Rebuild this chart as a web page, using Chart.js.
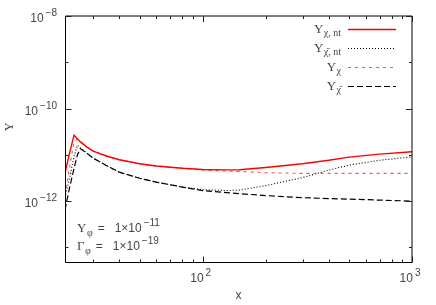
<!DOCTYPE html>
<html><head><meta charset="utf-8">
<script src="https://cdn.jsdelivr.net/npm/chart.js@4.4.0/dist/chart.umd.min.js"></script>
<style>html,body{margin:0;padding:0;background:#fff}#wrap{width:436px;height:305px}</style>
</head><body><div id="wrap"><canvas id="c" width="436" height="305"></canvas></div>
<script>
// ---- data ----
const xValues   = [22, 23, 24.3, 25.2, 26, 28, 30, 35, 40, 50, 60, 80, 100, 130, 150, 200, 300, 400, 500, 700, 1000];
const yChiNt    = [4.0e-12, 9.8e-12, 2.65e-11, 2.23e-11, 1.92e-11, 1.46e-11, 1.20e-11, 9.3e-12, 7.8e-12, 6.4e-12, 5.7e-12, 5.1e-12, 4.8e-12, 4.7e-12, 4.75e-12, 5.3e-12, 6.4e-12, 7.6e-12, 8.9e-12, 1.03e-11, 1.16e-11];
const yChiBarNt = [1.21e-12, 2.8e-12, 9.2e-12, 1.61e-11, 1.42e-11, 1.08e-11, 8.45e-12, 5.7e-12, 4.2e-12, 3.1e-12, 2.56e-12, 2.0e-12, 1.76e-12, 1.68e-12, 1.72e-12, 2.15e-12, 3.2e-12, 4.65e-12, 5.95e-12, 7.6e-12, 9.0e-12];
const yChi      = [1.34e-12, 4.6e-12, 1.87e-11, 2.2e-11, 1.92e-11, 1.46e-11, 1.20e-11, 9.3e-12, 7.8e-12, 6.4e-12, 5.7e-12, 5.1e-12, 4.65e-12, 4.45e-12, 4.35e-12, 4.1e-12, 3.95e-12, 3.95e-12, 3.95e-12, 3.95e-12, 3.95e-12];
const yChiBar   = [6.4e-13, 1.72e-12, 5.1e-12, 9.8e-12, 1.36e-11, 1.08e-11, 8.45e-12, 5.7e-12, 4.2e-12, 3.1e-12, 2.56e-12, 2.0e-12, 1.68e-12, 1.52e-12, 1.44e-12, 1.31e-12, 1.18e-12, 1.13e-12, 1.10e-12, 1.045e-12, 0.995e-12];
const xTickExponents = [2, 3];
const yTickExponents = [-8, -10, -12];
const seriesSub = ['χ, nt', 'χ̄, nt', 'χ', 'χ̄'];
const annot = [['Υ', 'φ', '−11'], ['Γ', 'φ', '−19']];

const xMin = 22, xMax = 1000, yMin = 4.8e-14, yMax = 1e-8;

function pts(ys){ return xValues.map((x,i)=>({x:x, y:ys[i]})); }

const SANS = '"Liberation Sans", Arial, sans-serif';
const SERIF = '"Liberation Serif", "DejaVu Serif", serif';
const TXT = '#444';

function runsWidth(ctx, runs){
  let w = 0;
  for (const r of runs){ ctx.font = r.font; w += ctx.measureText(r.t).width + (r.gap||0); }
  return w;
}
function drawRuns(ctx, runs, x, y, align){
  const w = runsWidth(ctx, runs);
  let cx = align === 'right' ? x - w : align === 'center' ? x - w/2 : x;
  for (const r of runs){
    ctx.font = r.font;
    ctx.fillText(r.t, cx, y + (r.dy||0));
    cx += ctx.measureText(r.t).width + (r.gap||0);
  }
}
function powRuns(exp){
  return [{t:'10', font:'12px '+SANS, gap:2},{t:String(exp).replace('-','−'), font:'10px '+SANS, dy:-6}];
}

const styles = [
  {color:'#ff0000', width:1.4, dash:[]},
  {color:'#000000', width:1.1, dash:[1,2]},
  {color:'#ff5050', width:1.1, dash:[3,4]},
  {color:'#000000', width:1.2, dash:[6,3]}
];

const deco = {
  id:'deco',
  afterDraw(chart){
    const ctx = chart.ctx, a = chart.chartArea;
    const xs = chart.scales.x, ys = chart.scales.y;
    ctx.save();
    // border
    ctx.strokeStyle = '#000'; ctx.lineWidth = 1; ctx.setLineDash([]);
    const L = Math.round(a.left)+0.5, B = Math.round(a.bottom)+0.5, T = Math.round(a.top), R = Math.round(a.right);
    ctx.beginPath();
    ctx.moveTo(L, T); ctx.lineTo(L, B); ctx.lineTo(R, B);
    ctx.moveTo(L, T); ctx.lineTo(R, T); ctx.lineTo(R, B);
    ctx.stroke();
    // x ticks
    ctx.strokeStyle = '#222';
    ctx.beginPath();
    for (let d = 1; d <= 3; d++){
      for (let m = 1; m <= 9; m++){
        const v = m*Math.pow(10,d);
        if (v < xMin || v > xMax) continue;
        const px = Math.round(xs.getPixelForValue(v)) + 0.5;
        const len = m === 1 ? 6 : 3;
        ctx.moveTo(px, B); ctx.lineTo(px, B - len);
        ctx.moveTo(px, T); ctx.lineTo(px, T + len);
      }
    }
    // y ticks
    for (let e = -13; e <= -8; e++){
      const v = Math.pow(10, e);
      if (v < yMin || v > yMax) continue;
      const py = Math.round(ys.getPixelForValue(v)) + 0.5;
      const len = (e % 2 === 0) ? 6 : 3;
      ctx.moveTo(L, py); ctx.lineTo(L + len, py);
      ctx.moveTo(R, py); ctx.lineTo(R - len, py);
    }
    ctx.stroke();

    ctx.fillStyle = TXT;
    ctx.textBaseline = 'alphabetic';
    // y tick labels
    for (const e of yTickExponents){
      const py = ys.getPixelForValue(Math.pow(10,e));
      drawRuns(ctx, powRuns(e), a.left - 8, py + 6, 'right');
    }
    // x tick labels
    for (const e of xTickExponents){
      const px = xs.getPixelForValue(Math.pow(10,e));
      drawRuns(ctx, powRuns(e), px - 2, a.bottom + 20, 'center');
    }
    // axis titles
    ctx.font = '12px '+SANS; ctx.textAlign = 'center';
    ctx.fillText('x', (a.left + a.right)/2, 299);
    ctx.save(); ctx.translate(13, 127); ctx.rotate(-Math.PI/2);
    ctx.font = '12px '+SERIF; ctx.fillText('Υ', 0, 0); ctx.restore();
    ctx.textAlign = 'left';

    // legend
    const rows = [29, 48, 67, 86];
    for (let i = 0; i < 4; i++){
      const y = rows[i];
      ctx.fillStyle = TXT;
      drawRuns(ctx, [{t:'Υ', font:'13px '+SERIF, gap:0.5},{t:seriesSub[i], font:'10px '+SERIF, dy:3}], 341, y + 4, 'right');
      const s = styles[i];
      ctx.strokeStyle = s.color; ctx.lineWidth = s.width; ctx.setLineDash(s.dash);
      ctx.beginPath(); ctx.moveTo(348, y + 0.5); ctx.lineTo(396, y + 0.5); ctx.stroke();
    }
    ctx.setLineDash([]);

    // annotations
    const arows = [228, 246];
    ctx.fillStyle = TXT;
    for (let i = 0; i < 2; i++){
      const y = arows[i] + 4;
      drawRuns(ctx, [
        {t:annot[i][0], font:'13px '+SERIF, gap:0.5},
        {t:annot[i][1], font:'10px '+SERIF, dy:4, gap:5},
        {t:'=', font:'12px '+SANS, gap:10},
        {t:'1×10', font:'12px '+SANS, gap:2},
        {t:annot[i][2], font:'10px '+SANS, dy:-6}
      ], 77, y, 'left');
    }
    ctx.restore();
  }
};

const labels = ['Υχ,nt', 'Υχ̄,nt', 'Υχ', 'Υχ̄'];
const series = [yChiNt, yChiBarNt, yChi, yChiBar];
const orders = [0, 2, 1, 3];

new Chart(document.getElementById('c'), {
  type: 'line',
  data: {
    datasets: series.map((ys, i) => ({
      label: labels[i],
      data: pts(ys),
      borderColor: styles[i].color,
      borderWidth: styles[i].width,
      borderDash: styles[i].dash,
      pointRadius: 0,
      fill: false,
      tension: 0,
      order: orders[i]
    }))
  },
  options: {
    responsive: false,
    animation: false,
    devicePixelRatio: 1,
    parsing: true,
    layout: { padding: { left: 65, top: 16, right: 24, bottom: 43 } },
    scales: {
      x: { type: 'logarithmic', min: xMin, max: xMax, display: false },
      y: { type: 'logarithmic', min: yMin, max: yMax, display: false }
    },
    plugins: { legend: { display: false }, tooltip: { enabled: false } }
  },
  plugins: [deco]
});
</script>
</body></html>
